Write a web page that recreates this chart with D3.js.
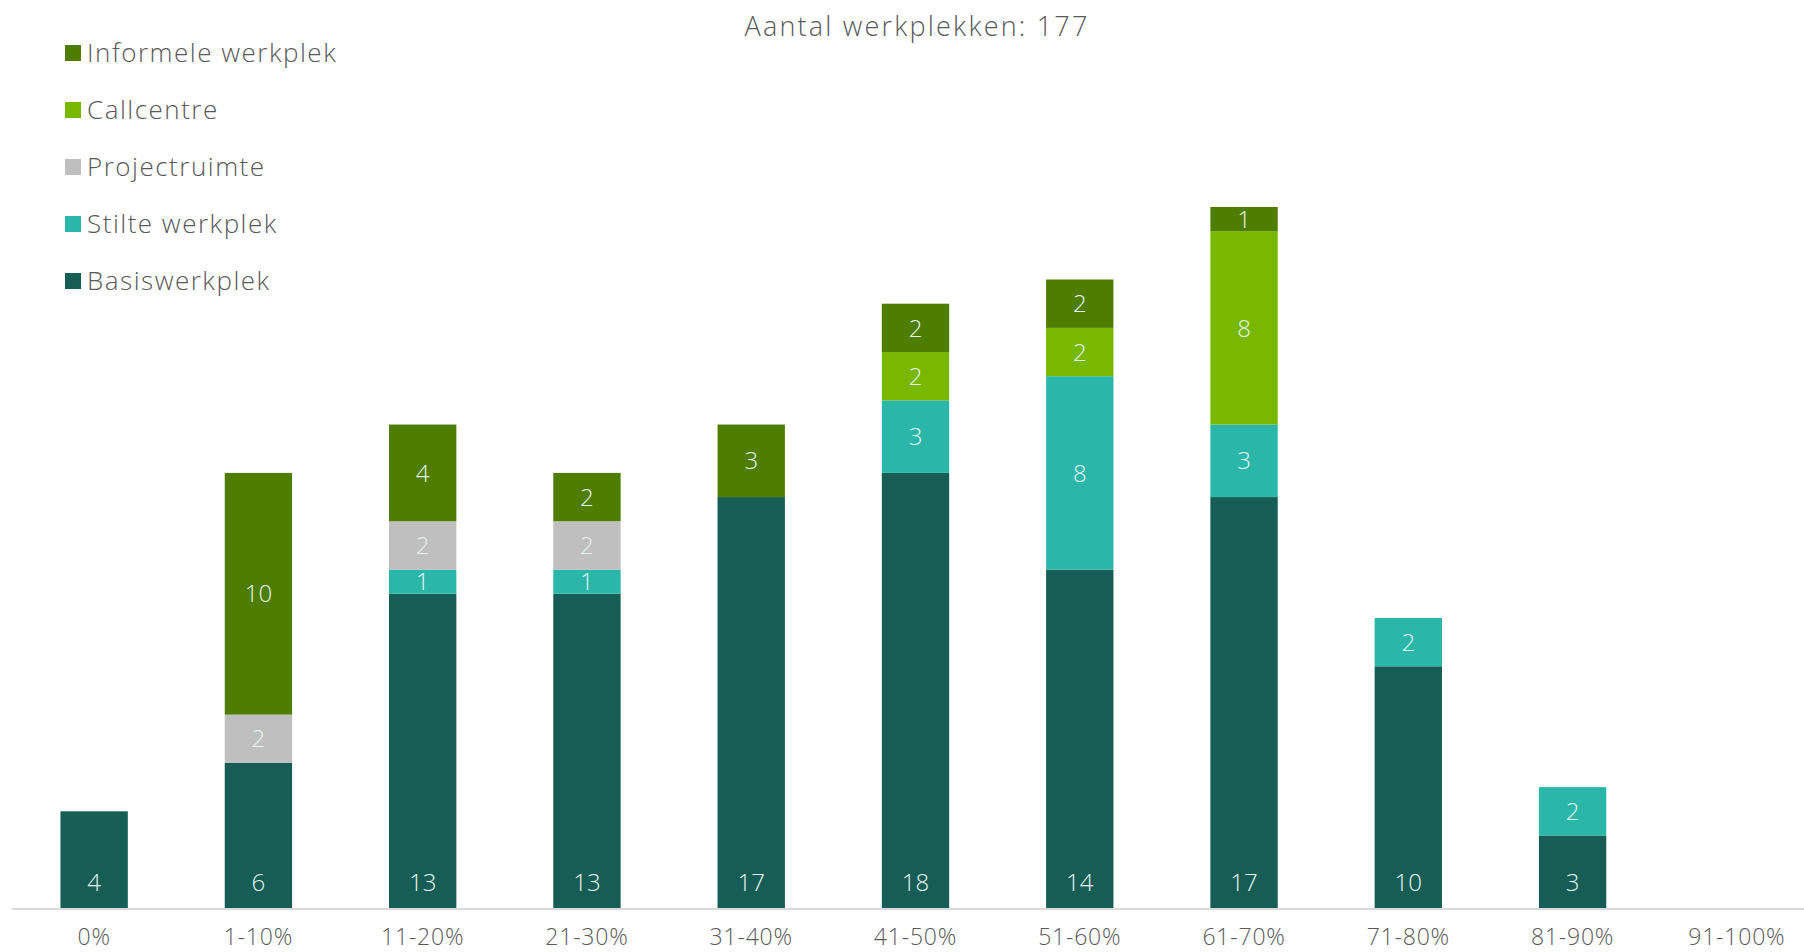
<!DOCTYPE html>
<html>
<head>
<meta charset="utf-8">
<script src="https://cdn.jsdelivr.net/npm/d3@7"></script>
<style>
  body { margin: 0; background: #fff; }
  svg text { font-family: "Open Sans", Lato, sans-serif; font-weight: 300; }
</style>
</head>
<body>
<div id="chart"></div>
<script>
var categories = ["0%", "1-10%", "11-20%", "21-30%", "31-40%", "41-50%", "51-60%", "61-70%", "71-80%", "81-90%", "91-100%"];
var series = ["Basiswerkplek", "Stilte werkplek", "Projectruimte", "Callcentre", "Informele werkplek"];
var colours = ["#165e55", "#2ab7a9", "#bfbfbf", "#78b800", "#4f7d00"];

var basiswerkplek = [4, 6, 13, 13, 17, 18, 14, 17, 10, 3, 0];
var stilteWerkplek = [0, 0, 1, 1, 0, 3, 8, 3, 2, 2, 0];
var projectruimte = [0, 2, 2, 2, 0, 0, 0, 0, 0, 0, 0];
var callcentre = [0, 0, 0, 0, 0, 2, 2, 8, 0, 0, 0];
var informeleWerkplek = [0, 10, 4, 2, 3, 2, 2, 1, 0, 0, 0];

var title = "Aantal werkplekken: 177";

var width = 1804, height = 952;
var baseline = 908;

var rows = categories.map(function(c, i) {
	return {
		cat: c,
		"Basiswerkplek": basiswerkplek[i],
		"Stilte werkplek": stilteWerkplek[i],
		"Projectruimte": projectruimte[i],
		"Callcentre": callcentre[i],
		"Informele werkplek": informeleWerkplek[i]
	};
});

var stacked = d3.stack().keys(series)(rows);

var x = d3.scaleBand()
	.domain(categories)
	.range([12, 1819])
	.paddingInner(0.59)
	.paddingOuter(0.295);

var y = d3.scaleLinear()
	.domain([0, 29])
	.range([baseline, 207]);

var svg = d3.select("#chart").append("svg")
	.attr("width", width)
	.attr("height", height);

// bars
var layer = svg.selectAll("g.layer")
	.data(stacked)
	.enter().append("g")
	.attr("class", "layer")
	.attr("fill", function(d, i) { return colours[i]; });

layer.selectAll("rect")
	.data(function(d) { return d; })
	.enter().append("rect")
	.attr("x", function(d) { return x(d.data.cat); })
	.attr("width", x.bandwidth())
	.attr("y", function(d) { return y(d[1]); })
	.attr("height", function(d) { return y(d[0]) - y(d[1]); });

// value labels
layer.each(function(s, si) {
	d3.select(this).selectAll("text")
		.data(s.filter(function(d) { return d[1] - d[0] > 0; }))
		.enter().append("text")
		.attr("x", function(d) { return x(d.data.cat) + x.bandwidth() / 2; })
		.attr("y", function(d) {
			if (si == 0) return baseline - 26;
			return (y(d[0]) + y(d[1])) / 2;
		})
		.attr("dy", "0.36em")
		.attr("text-anchor", "middle")
		.attr("fill", "#e6f2ef")
		.style("font-size", "24px")
		.text(function(d) { return d[1] - d[0]; });
});

// x axis
svg.append("line")
	.attr("x1", 12).attr("x2", width)
	.attr("y1", baseline + 1).attr("y2", baseline + 1)
	.attr("stroke", "#d9d9d9")
	.attr("stroke-width", 2);

svg.selectAll("text.xlab")
	.data(categories)
	.enter().append("text")
	.attr("class", "xlab")
	.attr("x", function(d) { return x(d) + x.bandwidth() / 2; })
	.attr("y", 937)
	.attr("dy", "0.36em")
	.attr("text-anchor", "middle")
	.attr("fill", "#595959")
	.style("font-size", "23px")
	.style("letter-spacing", "0.8px")
	.text(function(d) { return d; });

// title
svg.append("text")
	.attr("x", 917)
	.attr("y", 26)
	.attr("dy", "0.36em")
	.attr("text-anchor", "middle")
	.attr("fill", "#595959")
	.style("font-size", "27px")
	.style("letter-spacing", "2.2px")
	.text(title);

// legend, top item is the last series
var legendItems = series.slice().reverse();
var legend = svg.selectAll("g.legend")
	.data(legendItems)
	.enter().append("g")
	.attr("class", "legend")
	.attr("transform", function(d, i) { return "translate(65," + (53 + i * 57) + ")"; });

legend.append("rect")
	.attr("x", 0).attr("y", -8)
	.attr("width", 16).attr("height", 16)
	.attr("fill", function(d) { return colours[series.indexOf(d)]; });

legend.append("text")
	.attr("x", 22)
	.attr("y", 0)
	.attr("dy", "0.36em")
	.attr("fill", "#595959")
	.style("font-size", "26px")
	.style("letter-spacing", "1.5px")
	.text(function(d) { return d; });
</script>
</body>
</html>
